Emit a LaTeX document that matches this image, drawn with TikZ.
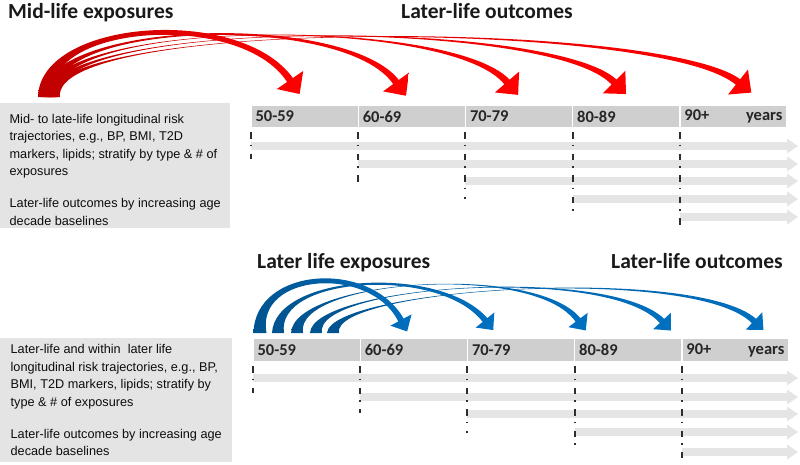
\documentclass[tikz,border=0pt]{standalone}
\usepackage{fontspec}
\setmainfont{Carlito}
\newfontfamily\notefont{Liberation Sans}
\usetikzlibrary{
    arrows.meta,
    positioning,
    calc
}
\definecolor{panelgray}{HTML}{E4E4E4}
\definecolor{cellgray}{HTML}{CFCFCF}
\definecolor{rowgray}{HTML}{E5E5E5}
\definecolor{tickgray}{HTML}{2E2E2E}
\definecolor{darkred}{HTML}{C00000}
\definecolor{brightred}{HTML}{FF0000}
\definecolor{darkblue}{HTML}{00538F}
\definecolor{brightblue}{HTML}{0070C0}

\tikzset{
    arc head half/.store in=\archeadhalf,
    arc head len/.store in=\archeadlen,
    arc shaft/.store in=\arcshaft,
}

% bent arrow: style, foot, control 1, control 2, head base, foot half width, middle bulge
\newcommand{\bentarrow}[7]{%
    \path[#1] ($(#2)+(-#6,0)$)
        .. controls ($(#3)!#7!90:(#4)$) and ($(#4)!#7!-90:(#3)$) .. ($(#5)!\arcshaft!-90:(#4)$)
        -- ($(#5)!\archeadhalf!-90:(#4)$) -- ($(#5)!\archeadlen!180:(#4)$)
        -- ($(#5)!\archeadhalf!90:(#4)$) -- ($(#5)!\arcshaft!90:(#4)$)
        .. controls ($(#4)!#7!90:(#3)$) and ($(#3)!#7!-90:(#4)$) .. ($(#2)+(#6,0)$) -- cycle;%
}

\begin{document}
\begin{tikzpicture}[
    x=1pt, y=-1pt,
    headline/.style={font=\fontsize{21.5}{24}\selectfont\bfseries, text=black!90, inner sep=0pt, anchor=base west},
    panel/.style={rectangle, fill=panelgray, anchor=north west, inner xsep=7pt, inner ysep=0pt, align=left, font=\notefont\fontsize{12.7}{17.5}\selectfont, text=black!95},
    cell/.style={rectangle, fill=cellgray, draw=white, line width=1.4pt, outer sep=0pt, anchor=north west, minimum height=23pt, text width=98pt, inner xsep=4.6pt, align=left, font=\fontsize{16.5}{18}\selectfont\bfseries, text=black!85},
    rowbar/.style={draw=rowgray, line width=8pt, -{Triangle[width=15pt, length=11pt, line width=0pt]}},
    decadetick/.style={draw=tickgray, line width=1.9pt, dash pattern=on 6.5pt off 6pt on 1.5pt off 7.5pt},
    redarc/.style={left color=darkred, right color=brightred, arc head half=16pt, arc head len=17pt, arc shaft=3.5pt},
    bluearc/.style={left color=darkblue, right color=brightblue, arc head half=12pt, arc head len=13pt, arc shaft=3pt},
]
    \useasboundingbox (0,0) rectangle (800,464);
    \coordinate (rowend) at (798,0);

    % Mid-life panel
    \node[headline] (midtitle) at (8,18) {Mid-life exposures};
    \node[headline] (topouttitle) at (401,18) {Later-life outcomes};

    \node[panel, minimum width=230pt, minimum height=125pt] (topnote) at (0,103) {
        \rule{0pt}{17pt}Mid- to late-life longitudinal risk\\
        trajectories, e.g., BP, BMI, T2D\\
        markers, lipids; stratify by type \& \# of\\
        exposures\\[14.5pt]
        Later-life outcomes by increasing age\\
        decade baselines
    };

    \node[cell] (t1) at (251,105) {50-59};
    \node[cell, right=0pt of t1] (t2) {60-69};
    \node[cell, right=0pt of t2] (t3) {70-79};
    \node[cell, right=0pt of t3] (t4) {80-89};
    \node[cell, right=0pt of t4] (t5) {90+\hfill years};

    \coordinate (tr1) at ($(t1.south west)+(0,18)$);
    \coordinate (tr2) at ($(t2.south west)+(0,36)$);
    \coordinate (tr3) at ($(t3.south west)+(0,53)$);
    \coordinate (tr4) at ($(t4.south west)+(0,71)$);
    \coordinate (tr5) at ($(t5.south west)+(0,89)$);
    \draw[rowbar] (tr1) -- (tr1 -| rowend);
    \draw[rowbar] (tr2) -- (tr2 -| rowend);
    \draw[rowbar] (tr3) -- (tr3 -| rowend);
    \draw[rowbar] (tr4) -- (tr4 -| rowend);
    \draw[rowbar] (tr5) -- (tr5 -| rowend);

    \draw[decadetick] ($(t1.south west)+(0,4)$) -- ++(0,27);
    \draw[decadetick] ($(t2.south west)+(0,4)$) -- ++(0,50);
    \draw[decadetick] ($(t3.south west)+(0,4)$) -- ++(0,67);
    \draw[decadetick] ($(t4.south west)+(0,4)$) -- ++(0,80);
    \draw[decadetick] ($(t5.south west)+(0,4)$) -- ++(0,93);

    \bentarrow{redarc}{54,97}{50,18}{660,20}{738,82}{6pt}{0pt}
    \bentarrow{redarc}{52,97}{48,18}{550,18}{614,82}{6pt}{0pt}
    \bentarrow{redarc}{50,97}{46,18}{450,16}{507,82}{6.5pt}{0pt}
    \bentarrow{redarc}{48,97}{44,20}{345,12}{396,82}{7pt}{0.8pt}
    \bentarrow{redarc}{46,97}{40,22}{240,7}{290,80}{8pt}{2.8pt}

    % Later-life panel
    \node[headline] (latetitle) at (257,268) {Later life exposures};
    \node[headline] (lowouttitle) at (611,268) {Later-life outcomes};

    \node[panel, minimum width=232pt, minimum height=124pt] (lownote) at (0,338) {
        Later-life and within\ \ later life\\
        longitudinal risk trajectories, e.g., BP,\\
        BMI, T2D markers, lipids; stratify by\\
        type \& \# of exposures\\[14.5pt]
        Later-life outcomes by increasing age\\
        decade baselines
    };

    \node[cell, minimum height=24pt] (b1) at (253,338) {50-59};
    \node[cell, minimum height=24pt, right=0pt of b1] (b2) {60-69};
    \node[cell, minimum height=24pt, right=0pt of b2] (b3) {70-79};
    \node[cell, minimum height=24pt, right=0pt of b3] (b4) {80-89};
    \node[cell, minimum height=24pt, right=0pt of b4] (b5) {90+\hfill years};

    \coordinate (br1) at ($(b1.south west)+(0,16)$);
    \coordinate (br2) at ($(b2.south west)+(0,35)$);
    \coordinate (br3) at ($(b3.south west)+(0,52)$);
    \coordinate (br4) at ($(b4.south west)+(0,70)$);
    \coordinate (br5) at ($(b5.south west)+(0,90)$);
    \draw[rowbar] (br1) -- (br1 -| rowend);
    \draw[rowbar] (br2) -- (br2 -| rowend);
    \draw[rowbar] (br3) -- (br3 -| rowend);
    \draw[rowbar] (br4) -- (br4 -| rowend);
    \draw[rowbar] (br5) -- (br5 -| rowend);

    \draw[decadetick] ($(b1.south west)+(0,4)$) -- ++(0,27);
    \draw[decadetick] ($(b2.south west)+(0,4)$) -- ++(0,47);
    \draw[decadetick] ($(b3.south west)+(0,4)$) -- ++(0,67);
    \draw[decadetick] ($(b4.south west)+(0,4)$) -- ++(0,79);
    \draw[decadetick] ($(b5.south west)+(0,4)$) -- ++(0,92);

    \bentarrow{bluearc}{333,333}{330,288}{695,265}{754,321}{6pt}{0pt}
    \bentarrow{bluearc}{316,333}{312,285}{610,265}{662,321}{6pt}{0pt}
    \bentarrow{bluearc}{297,333}{293,280}{535,262}{578,320}{6pt}{0pt}
    \bentarrow{bluearc}{278,333}{275,275}{440,265}{485,320}{6pt}{1pt}
    \bentarrow{bluearc}{260,333}{255,270}{370,262}{401,320}{6.5pt}{3pt}
\end{tikzpicture}
\end{document}
